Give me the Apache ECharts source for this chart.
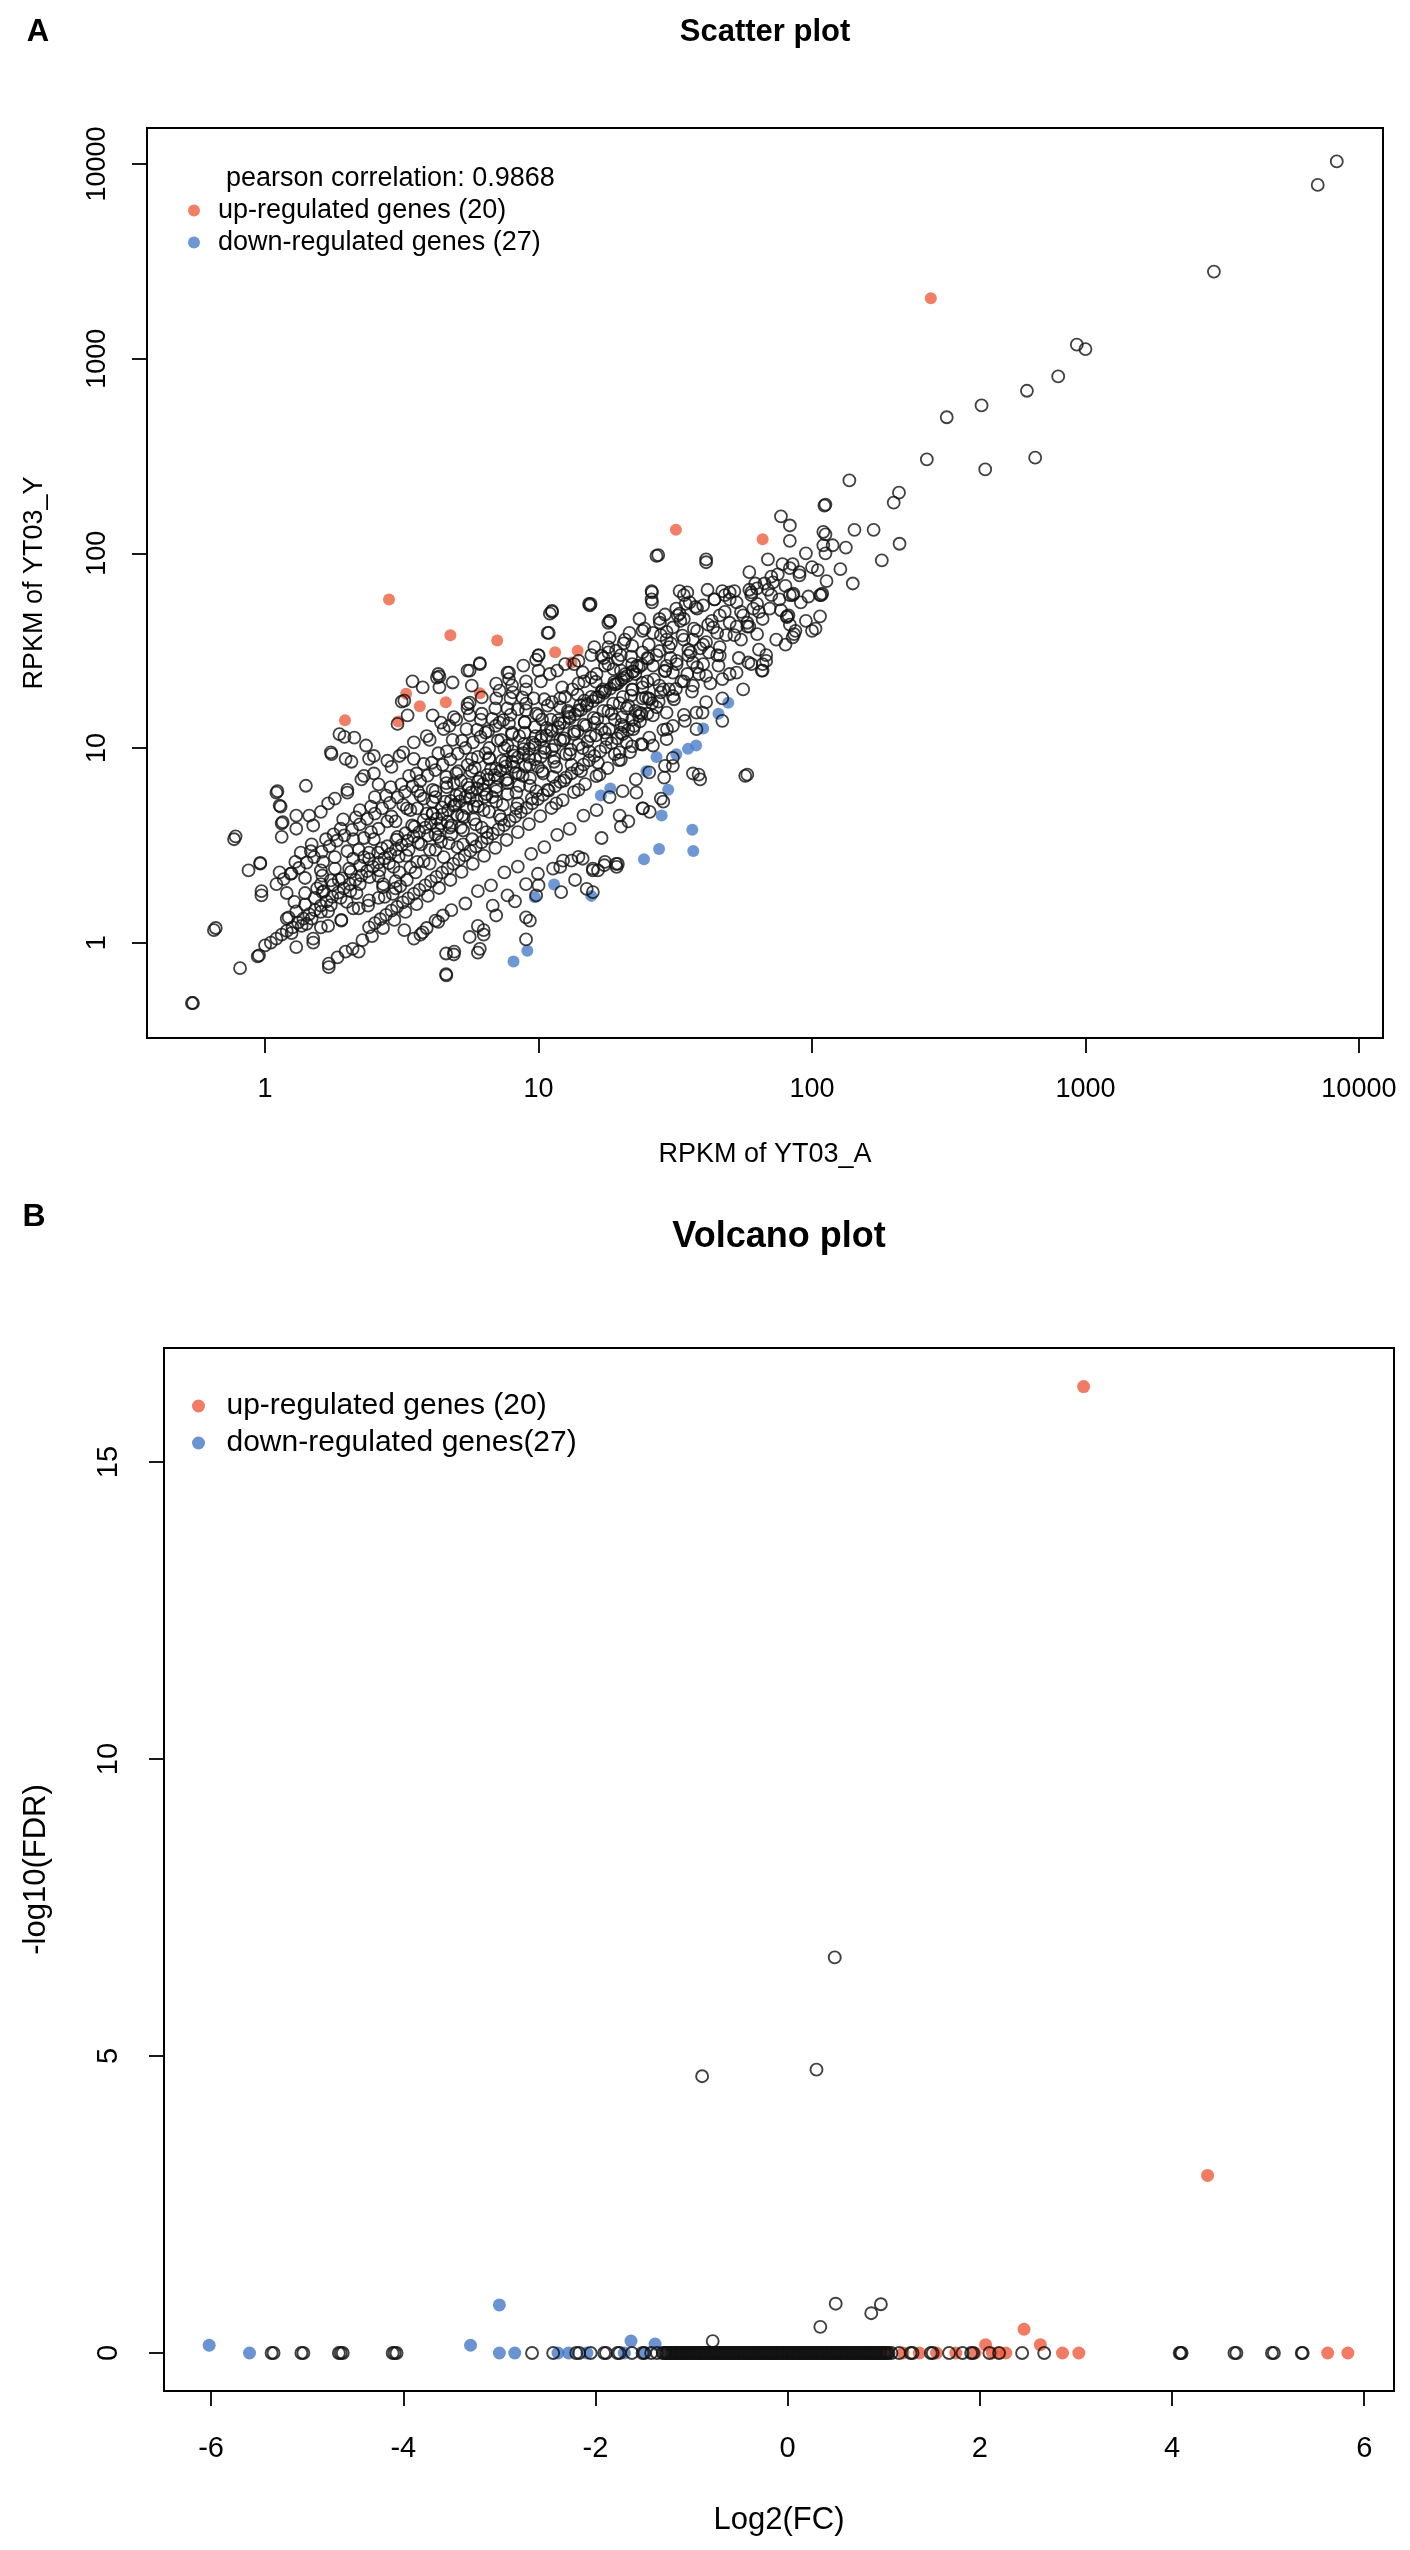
<!DOCTYPE html>
<html>
<head>
<meta charset="utf-8">
<script src="https://cdn.jsdelivr.net/npm/echarts@6/dist/echarts.min.js"></script>
<style>
  html, body { margin: 0; padding: 0; background: #fff; }
  #chart { width: 1410px; height: 2550px; }
</style>
</head>
<body>
<div id="chart"></div>
<script>
// ---- Panel A: scatter plot (RPKM of YT03_A vs RPKM of YT03_Y) ----
var xTicksA = [1, 10, 100, 1000, 10000];
var yTicksA = [1, 10, 100, 1000, 10000];

// isolated open circles
var scatterOpen = [
  [8300,10300],[7070,7800],[2950,2800],[930,1180],[1000,1120],[795,810],[611,684],[417,575],[311,500],
  [263,304],[430,270],[655,310],[137,237],[208,205],[199,182],[112,178],[111,176],[77,155],[83,139],
  [83,116],[110,129],[112,125],[143,132],[168,132],[209,112],[180,92],[141,70],[127,83],[133,107],
  [119,110],[110,110],[112,100],[69,93],[105,82],[113,72],[97,60],[109,62],[108,61],[85.5,62],[85,61],
  [82,48],[81,47],[86,38.5],[103,41],[90,80],[78,88],[72,71],[69,65],[59,65],[61,52],[55,50],[50,63],
  [47,64],[41.5,65],[41,93],[27.4,98],[25.9,64],[25.9,58],[32.8,64],[35,63],[35.7,56],[40,54],[31.9,52],
  [32.8,49],[46,48],[53,42],[63,38.5],[59,80],[58.5,27.5],[68,28],[65.5,25],[58,7.3],
  [15.3,55],[18.2,45],[11.2,50.6],[10.8,39],[6.1,27],[5.6,25],[4.3,24],[4.85,21.7],[10,30],[7.7,24.4],
  [18.2,36.8],[21.5,39],[19.2,31.6],[17,29.8],[29.4,36],[26.2,39],[23.4,46],[27.7,46],[31,41.6],
  [29.4,26.4],[36.7,36],[41.7,43],[43.5,41.6],[42,31],[36.7,27.5],[46,29.8],[53,24.4],[47,22.6],
  [41,23.5],[36.7,20.9],[31,18.5],[27.7,20.9],[31,24.4],[37.8,15.2],[41,17.2],[47,13.8],[37.8,12.5],
  [31,13],[29.4,15.2],[26.2,14.7],[29.4,11.1],[26.2,10.3],[29,8.1],[31,8.1],[36.7,7.4],[39,6.9],
  [22.8,5.9],[24.1,4.9],[25.5,4.7],[19.8,4.5],[28.6,5.3],[17.5,2.6],[19.5,2.54],[15.8,2.4],[19.8,9.5],
  [21,10.7],[22.2,12.5],[23.4,15.2],[25.5,17.8],
  [15.5,55],[11.2,50],[10.9,39],[18.3,45],[10,29.8],[6.1,27.3],[7.8,24.4],[7.2,19.7],[5.7,20.9],
  [8.05,19.3],[4.34,23.3],[4.34,20.5],[3.77,20.5],[3.23,17.5],[3.32,14.7],[3.05,13.3],[4.1,14.7],
  [4.72,13],[5.6,17.1],[5.6,14.7],[6.4,12],[7.2,13.5],
  [1.87,11.8],[2.12,11.3],[1.74,9.5],[1.97,8.8],[2.34,10.3],[2.4,8.8],[2.5,9.1],[1.41,6.4],[1.11,6.0],
  [1.13,5.06],[1.16,4.16],[1.15,4.1],[0.78,3.52],[0.87,2.35],[0.96,2.57],[0.97,1.75],[1.24,2.26],
  [1.62,2.21],[1.74,2.09],[1.62,1.82],[0.66,1.19],[0.81,0.74],[0.95,0.86],[0.94,0.85],[0.54,0.49],
  [0.545,0.49],[1.71,0.78],[1.84,0.84],[1.97,0.9],[2.09,0.93],[2.27,1.03],[2.93,1.78],[3.23,1.16],
  [3.77,1.13],[4.59,0.88],[4.92,0.9],[4.59,0.69],[6.1,0.93],[6.3,1.16],[4.2,1.3],[4.47,1.38],[6.8,1.55],
  [7.7,1.75],[9.0,2.0],[9.95,2.26],[11.3,2.4],[12.3,2.64],[13.2,2.64],[14.5,2.7],[16.5,2.35],[19.2,2.54],
  [12.1,1.82],[9.8,1.75],[9.0,1.35],[15,1.89],[15.8,1.82],[5.6,1.07],
  [0.77,3.4],[0.65,1.16],[0.96,2.55],[0.97,1.84],[1.1,5.9],[1.14,5.0],[1.95,11.4],[1.75,9.3],[2.07,8.5],
  [3.16,17.3],[3.46,22],[4.25,23],[5.5,25],[11,49],[15.4,54],[18,44],[26,63],[27,97],[41,90],[4.6,0.68],
  [4.9,0.87],[6,0.89],[6.3,1.1],[3.7,1.1],[1.71,0.75],[2.2,0.9],[9.3,1.3],[9,1.04],[13.6,2.1],[15.8,2.35],
  [19.3,2.45],[17.4,2.5],[21.3,4.2],[28.8,7.05],[31,8.9],[38.5,7.3],[57,7.2],[66,27],[100,40],[85,37],
  [66,25],[48,61],[50,58],[63,66],[60,61],[83,61],[107,61],[81,47.5],[107,47.5],[59,42],[83,43],[34,61],
  [34.5,55],[26,56]
];

// the dense diagonal bands of the cloud
var bandMain = [
  [1.0,0.97],[1.05,1.0],[1.1,1.05],[1.15,1.1],[1.2,1.15],[1.26,1.2],[1.32,1.27],[1.38,1.33],[1.45,1.4],
  [1.52,1.47],[1.6,1.55],[1.68,1.63],[1.76,1.72],[1.85,1.81],[1.94,1.9],[2.04,2.0],[2.14,2.1],[2.25,2.21],
  [2.36,2.33],[2.48,2.45],[2.6,2.58],[2.73,2.71],[2.87,2.86],[3.01,3.01],[3.16,3.17],[3.32,3.34],
  [3.49,3.52],[3.66,3.7],[3.85,3.9],[4.04,4.11],[4.24,4.33],[4.45,4.56],[4.67,4.8],[4.9,5.05],[5.15,5.32],
  [5.4,5.6],[5.67,5.9],[5.96,6.2],[6.26,6.55],[6.57,6.9],[6.9,7.26],[7.25,7.65],[7.6,8.05],[8.0,8.5],
  [8.4,8.95],[8.8,9.4],[9.25,9.9],[9.7,10.4],[10.2,11],[10.7,11.6],[11.2,12.2],[11.8,12.8],[12.4,13.5],
  [13,14.2],[13.6,14.9],[14.3,15.7],[15,16.5],[15.8,17.4],[16.6,18.3],[17.4,19.2],[18.3,20.2],
  [19.2,21.3],[20.1,22.4],[21.1,23.5],[22.2,24.7],[23.3,26]
];
var bandMainEdge = [
  [1.2,1.33],[1.3,1.45],[1.4,1.57],[1.52,1.7],[1.64,1.84],[1.77,1.98],[1.91,2.14],[2.06,2.31],[2.22,2.49],
  [2.4,2.69],[2.59,2.9],[2.8,3.13],[3.02,3.38],[3.26,3.65],[3.52,3.94],[3.8,4.26],[4.1,4.6],[4.43,4.96],
  [4.78,5.35],[5.16,5.78],[5.57,6.24],[6.01,6.73],[6.49,7.27],[7.0,7.84],[7.56,8.47],[8.16,9.14],
  [8.81,9.87],[9.51,10.65],[10.27,11.5],[11.09,12.42],[11.97,13.4],[12.92,14.47],[13.95,15.62],
  [15.06,16.87],[16.26,18.21],[17.55,19.66],[18.95,21.22],[20.46,22.9],[22.09,24.74],[23.85,26.7],
  [1.25,1.12],[1.36,1.22],[1.48,1.33],[1.6,1.44],[1.74,1.56],[1.89,1.7],[2.05,1.84],[2.22,2.0],[2.41,2.17],
  [2.62,2.35],[2.84,2.56],[3.08,2.77],[3.35,3.0],[3.63,3.27],[3.94,3.55],[4.28,3.85],[4.65,4.18],
  [5.04,4.54],[5.47,4.92],[5.94,5.35],[6.45,5.8],[7.0,6.3],[7.6,6.84],[8.25,7.42],[8.95,8.05],[9.72,8.75],
  [10.55,9.5],[11.45,10.3],[12.43,11.2],[13.5,12.15],[14.65,13.2],[15.9,14.3],[17.26,15.5],[18.74,16.9],
  [20.34,18.3],[22.08,19.9],[23.97,21.6]
];
var bandUpper = [
  [1.1,2.0],[1.17,2.12],[1.25,2.27],[1.33,2.42],[1.42,2.58],[1.51,2.75],[1.61,2.93],[1.72,3.13],
  [1.83,3.34],[1.95,3.56],[2.08,3.8],[2.22,4.05],[2.36,4.32],[2.52,4.6],[2.68,4.9],[2.86,5.23],
  [3.05,5.58],[3.25,5.95],[3.46,6.35],[3.69,6.77],[3.93,7.22],[4.19,7.7],[4.46,8.2],[4.76,8.75],
  [5.07,9.35],[5.4,10],[5.76,10.7],[6.14,11.4],[6.54,12.2],[6.97,13],[7.43,13.9],[7.9,14.8],[8.4,15.8],
  [9,16.9],[9.6,18],
  [1.13,2.3],[1.29,2.6],[1.47,2.95],[1.67,3.4],[1.89,3.85],[2.15,4.4],[2.44,5.0],[2.77,5.7],[3.15,6.5],
  [3.58,7.4],[4.07,8.4],[4.62,9.6],[5.25,10.9],[5.96,12.4],[6.77,14.1],[7.69,16],[8.73,18.2]
];
var bandLower = [
  [2.4,1.2],[2.52,1.26],[2.64,1.32],[2.77,1.39],[2.9,1.46],[3.04,1.53],[3.19,1.61],[3.34,1.69],[3.5,1.78],
  [3.67,1.87],[3.85,1.97],[4.04,2.07],[4.23,2.18],[4.44,2.29],[4.65,2.41],[4.88,2.54],[5.12,2.67],
  [5.37,2.81],[5.63,2.96],[5.9,3.12],[6.19,3.28],[6.49,3.45],[6.8,3.63],[7.13,3.82],[7.48,4.02],
  [7.84,4.23],[8.22,4.45],[8.62,4.68],[9.04,4.93],[9.48,5.19],[9.94,5.46],[10.4,5.75],[10.9,6.05],
  [11.5,6.37],[12,6.7],[12.6,7.05],[13.2,7.42],[13.9,7.81],[14.6,8.22],[15.3,8.65],[16,9.1],[16.8,9.6],
  [17.6,10.1],[18.5,10.6],[19.4,11.2],[20.3,11.8],[21.3,12.4],[22.4,13],[23.5,13.7],
  [2.46,1.08],[2.7,1.19],[2.97,1.31],[3.26,1.44],[3.58,1.58],[3.94,1.74],[4.33,1.91],[4.76,2.1],[5.23,2.31],
  [5.75,2.54],[6.32,2.79],[6.95,3.07],[7.64,3.37],[8.4,3.7],[9.23,4.07],[10.15,4.47],[11.15,4.92],
  [12.26,5.4],[13.47,5.94],[14.8,6.53],[16.27,7.18],[17.88,7.89],[19.65,8.67],[21.6,9.53],[23.74,10.47]
];
// open circles filling the cloud between the bands
var cloudFill = [
  [1.2,1.8],[1.4,2.15],[1.6,2.35],[1.8,2.75],[2.0,2.95],[2.3,3.45],[2.6,3.85],[2.9,4.45],[3.3,4.9],
  [3.7,5.7],[4.1,6.1],[4.6,7.1],[5.1,7.6],[5.7,8.8],[6.4,9.4],[7.1,10.9],[8.0,11.8],[8.9,13.6],[10,14.7],
  [11.2,17.2],[12.5,18.3],[14,21.5],[15.6,23],[17.5,26.5],[19.5,28.5],[22,33.5],
  [1.5,1.05],[1.7,1.22],[1.9,1.31],[2.1,1.5],[2.4,1.65],[2.7,1.93],[3.0,2.07],[3.4,2.44],[3.8,2.62],
  [4.2,3.0],[4.7,3.25],[5.3,3.78],[5.9,4.05],[6.6,4.7],[7.4,5.1],[8.3,5.9],[9.3,6.4],[10.4,7.4],[11.6,8.0],
  [13,9.3],[14.5,10],[16.2,11.6],[18.1,12.5],[20.2,14.4],[22.6,15.5],[25.3,18],[28,19.3],
  [1.15,3.5],[1.3,3.85],[1.45,4.5],[1.6,4.7],[1.8,5.5],[2.0,5.9],[2.25,6.9],[2.5,7.4],[2.8,8.6],[3.1,9.1],
  [3.5,10.7],[3.9,11.5],[4.4,13.5],[4.9,14.4],[5.5,16.8],[6.2,18.2],[7,21.4],[7.8,22.6],[8.8,26.5],[9.8,28.4],
  [3.5,1.05],[3.9,1.19],[4.3,1.28],[4.8,1.47],[5.4,1.59],[6,1.84],[6.7,1.97],[7.5,2.3],[8.4,2.46],[9.4,2.86],
  [10.5,3.1],[11.7,3.58],[13,3.84],[14.6,4.5],[16.3,4.8],[18.2,5.6],[20.3,6.0],[22.7,6.9],[25.4,7.5],
  [6,1.22],[7,1.38],[8.2,1.63],[10,1.97],[12,2.45],[14,2.76],[17,3.45],[20,3.95],[24,4.9],[28,5.5],
  [25,22],[27,30],[29,25],[30,33],[32,28],[34,36],[36,31],[38,40],[40,34],[43,45],[45,39],[48,50],[50,44],
  [53,56],[56,48],[60,63],[63,55],[67,70],[71,61],[75,78],[80,68],[85,88],[90,77],[95,100],[100,85],
  [33,45],[38,52],[44,58],[28,38],[24,31],[22,27],[20,25],[35,24],[40,27],[46,33],[52,38],[58,44],
  [64,50],[70,52],[76,58],
  [2.2,3.0],[2.5,3.4],[2.7,2.0],[3.0,4.2],[3.1,2.3],[3.4,4.8],[3.6,2.6],[3.8,5.5],[4.0,3.0],[4.2,6.0],
  [4.4,3.3],[4.6,6.6],[4.8,3.6],[5.0,7.4],[5.2,3.9],[5.5,8.2],[5.8,4.3],[6.0,9.0],[6.3,4.8],[6.6,10],
  [7.0,5.3],[7.3,11],[7.7,5.8],[8.0,12],[8.5,6.4],[8.9,13.5],[9.3,7.0],[9.8,15],[10.3,7.6],[10.8,16.5],
  [11.4,8.5],[12,18],[12.6,9.3],[13.3,20],[14,10.4],[14.7,22],[15.5,11.5],[16.3,24],[17,12.5],[18,27],
  [19,14],[20,30],[21,16],[22,20],[24,18],[25,29],[30,20],[34,22],[38,26],[45,30],[55,36],[26,17],
  [22,14],[20,12],[25,15],
  [1.3,0.95],[1.5,1.0],[1.6,1.2],[1.9,1.3],[2.2,1.5],[2.6,1.7],[3.0,1.9],[3.3,2.1],[1.4,1.8],[1.6,2.0],
  [1.8,2.4],[2.1,2.7],[2.4,2.9],
  [1.3,4.5],[1.5,4.0],[1.7,5.2],[2.0,6.1],[2.3,7.2],[2.6,6.5],[2.9,8.0],[3.2,9.5],[3.5,8.8],[4.0,11],
  [4.5,12.5],[5,14],[5.5,16],[6.2,15],[7,18],[8,21],[9,22],[10,25],[11,24],[12.5,27],[14,28],[16,33],[18,31]
];
var cloudCore = [
  [1.22,1.35],[1.28,1.62],[1.35,2.9],[1.42,1.25],[1.48,3.2],[1.55,1.9],[1.63,2.6],[1.7,1.45],[1.78,3.6],
  [1.86,2.1],[1.93,4.3],[1.99,1.62],[2.03,2.4],[2.1,3.4],[2.16,1.8],[2.22,4.8],[2.3,2.75],[2.38,1.55],
  [2.44,3.7],[2.52,5.6],[2.6,2.2],[2.67,3.05],[2.74,1.72],[2.8,4.2],[2.88,6.3],[2.95,2.45],
  [3.05,3.5],[3.12,1.95],[3.2,5.1],[3.28,2.8],[3.36,7.2],[3.45,4.0],[3.55,2.3],[3.62,6.0],[3.72,3.2],
  [3.8,8.3],[3.9,4.6],[4.0,2.55],[4.1,5.3],[4.2,3.6],[4.3,9.4],[4.4,4.1],[4.5,2.75],[4.62,6.3],[4.74,3.9],
  [4.85,11],[4.95,5.1],[5.05,3.1],[5.2,6.8],[5.33,4.4],[5.45,12.5],[5.6,5.5],[5.72,3.4],[5.85,7.9],
  [6.0,5.0],[6.15,14],[6.3,6.1],[6.45,3.7],[6.6,8.8],[6.78,5.6],[6.95,16],[7.1,7.0],[7.3,4.3],[7.5,10],
  [7.7,6.6],[7.9,18],[8.1,8.0],[8.3,4.9],[8.5,11.5],[8.75,7.2],[9.0,20],[9.2,9.0],[9.45,5.5],[9.7,12.8],
  [9.95,8.0],[10.2,22],[10.5,10.0],[10.8,6.1],[11.1,14],[11.4,8.9],[11.7,25],[12.0,11],[12.4,6.8],
  [12.8,15.5],[13.1,9.8],[13.5,27],[13.9,12.2],[14.3,7.6],[14.7,17.5],[15.1,10.8],[15.6,30],[16.0,13.5],
  [16.5,8.4],[17.0,19.5],[17.5,12.0],[18.0,33],[18.5,15.0],[19.0,9.3],[19.5,21.5],
  [20.1,13.2],[20.7,36],[21.3,16.5],[22.0,10.2],[22.6,24],[23.3,14.6],[24.0,40],[24.7,18.2],[25.4,11.3],
  [26.2,26.5],[27.0,16.2],[27.8,44],[28.6,20],[29.5,12.5],[30.4,29],[31.3,17.8],[32.3,48],[33.3,22],
  [34.3,13.8],[35.3,32],[36.4,19.5],[37.5,53],[38.6,24],[39.8,15.2],
  [41,35],[42.5,21.5],[44,58],[45.5,26.5],[47,18],[48.5,38],[50,24],[52,64],[54,29],[56,20],[58,42],
  [60,27],[62,70],[64,32],[66,46],[68,30],[71,76],[74,36],[77,51],[80,34],[83,84],[87,40],[91,56],[95,45]
];
// the darkest part of the ribbon, x between about 4 and 40
var cloudDense = [
  [4.1,4.6],[4.3,3.5],[4.55,5.3],[4.8,4.0],[5.0,5.7],[5.25,4.5],[5.5,6.5],[5.8,5.0],[6.1,7.0],[6.35,5.6],
  [6.7,7.8],[7.0,6.0],[7.35,8.6],[7.7,6.9],[8.05,9.6],[8.45,7.4],[8.85,10.5],[9.3,8.2],[9.75,11.5],
  [10.2,9.0],[10.7,12.7],[11.2,9.8],[11.8,13.9],[12.3,10.9],[12.9,15.2],[13.5,11.8],[14.2,16.6],
  [14.9,13.0],[15.6,18.3],[16.4,14.1],[17.2,20],[18.0,15.5],[18.9,21.8],[19.8,17.0],[20.8,24],[21.8,18.6],
  [22.9,26.4],[24.0,20.5],[25.2,28.8],[26.4,22.5],[27.7,31.5],[29,24.8],[30.5,34.5],[32,27],[33.6,37.8],
  [35.3,29.8],[37,41],[39,32.5],
  [5.3,3.2],[6.2,3.9],[7.2,4.5],[8.4,5.2],[9.8,6.0],[11.3,7.1],[13.2,8.2],[15.3,9.6],[17.8,11.1],
  [20.6,12.9],[23.8,15],[27.5,17.3],[31.8,20.1],
  [3.6,4.9],[4.2,5.6],[4.9,6.6],[5.7,7.6],[6.6,8.9],[7.7,10.3],[8.9,12],[10.3,14],[12,16.2],[13.9,18.8],
  [16.2,21.9],[18.8,25.4],[21.8,29.5],[25.3,34],[29.4,39.5],[34,46],
  [12.2,20.5],[14.5,24.5],[17.3,29],[20.5,34.5],[24.4,41],[29,48.5],[10.5,17.8],[9,15.6],[7.8,13.4],
  [11.6,5.2],[14,6.1],[16.7,7.3],[20,8.7],[24,10.4],[28.6,12.4],[34,14.8]
];
var scatterUp = [
  [272,2040],[31.8,132],[66,118],[2.84,58],[4.76,38],[7.06,35.7],[11.5,31],[13.9,31.6],[13.2,27.5],
  [6.1,19.1],[3.28,19],[3.68,16.4],[4.58,17.2],[1.96,13.9],[3.07,13.7]
];
var scatterDown = [
  [49.4,17.1],[45.5,15],[40,12.6],[37.7,10.3],[35.2,9.9],[31.9,9.3],[27,9],[24.8,7.6],[29.8,6.1],
  [16.9,5.7],[18.3,6.2],[28.2,4.5],[36.5,3.8],[36.8,2.96],[27.6,3.03],[24.3,2.68],[11.4,1.99],
  [15.6,1.74],[9.7,1.71],[9.1,0.91],[8.1,0.8]
];

// ---- Panel B: volcano plot (Log2(FC) vs -log10(FDR)) ----
var xTicksB = [-6, -4, -2, 0, 2, 4, 6];
var yTicksB = [0, 5, 10, 15];

var volcanoOpen = [
  [0.49,6.66],[-0.89,4.66],[0.30,4.77],[0.50,0.83],[0.97,0.82],[0.87,0.67],[0.34,0.44],[-0.78,0.2],[2.67,0],
  [-5.37,0],[-5.35,0],[-5.04,0],[-5.06,0],[-4.65,0],[-4.63,0],[-4.67,0],[-4.09,0],[-4.07,0],[-4.11,0],
  [4.08,0],[4.1,0],[4.09,0],[4.65,0],[4.67,0],[5.04,0],[5.06,0],[5.35,0],[5.36,0],
  [-2.66,0],[-2.44,0],[-2.2,0],[-2.17,0],[-2.05,0],[-1.91,0],[-1.89,0],[-1.77,0],[-1.75,0],[-1.62,0],
  [-1.51,0],[-1.49,0],[-1.42,0],[-1.36,0],
  [1.08,0],[1.16,0],[1.28,0],[1.3,0],[1.49,0],[1.51,0],[1.68,0],[1.82,0],[1.91,0],[1.93,0],[2.1,0],[2.2,0],[2.44,0]
];
// log2FC of the genes piled up at -log10(FDR) = 0
var volcanoBaseFC = [
  -1.3,-1.27,-1.25,-1.22,-1.2,-1.17,-1.15,-1.12,-1.1,-1.07,-1.05,-1.02,-1,-0.97,-0.95,-0.92,-0.9,-0.87,
  -0.85,-0.82,-0.8,-0.77,-0.75,-0.72,-0.7,-0.67,-0.65,-0.62,-0.6,-0.57,-0.55,-0.52,-0.5,-0.47,-0.45,-0.42,
  -0.4,-0.37,-0.35,-0.32,-0.3,-0.27,-0.25,-0.22,-0.2,-0.17,-0.15,-0.12,-0.1,-0.07,-0.05,-0.02,0,0.02,0.05,
  0.07,0.1,0.12,0.15,0.17,0.2,0.22,0.25,0.27,0.3,0.32,0.35,0.37,0.4,0.42,0.45,0.47,0.5,0.52,0.55,0.57,0.6,
  0.62,0.65,0.67,0.7,0.72,0.75,0.77,0.8,0.82,0.85,0.87,0.9,0.92,0.95,0.97,1.0,1.02,1.05,
  -1.285,-1.26,-1.235,-1.21,-1.185,-1.16,-1.135,-1.11,-1.085,-1.06,-1.035,-1.01,-0.985,-0.96,-0.935,-0.91,
  -0.885,-0.86,-0.835,-0.81,-0.785,-0.76,-0.735,-0.71,-0.685,-0.66,-0.635,-0.61,-0.585,-0.56,-0.535,-0.51,
  -0.485,-0.46,-0.435,-0.41,-0.385,-0.36,-0.335,-0.31,-0.285,-0.26,-0.235,-0.21,-0.185,-0.16,-0.135,-0.11,
  -0.085,-0.06,-0.035,-0.01,0.01,0.035,0.06,0.085,0.11,0.135,0.16,0.185,0.21,0.235,0.26,0.285,0.31,0.335,
  0.36,0.385,0.41,0.435,0.46,0.485,0.51,0.535,0.56,0.585,0.61,0.635,0.66,0.685,0.71,0.735,0.76,0.785,0.81,
  0.835,0.86,0.885,0.91,0.935,0.96,0.985,1.01,1.035
];
var volcanoUp = [
  [3.08,16.27],[4.37,2.99],[2.46,0.4],[2.63,0.14],[2.06,0.14],[2.13,0],[2.27,0],[2.86,0],[3.03,0],
  [5.62,0],[5.83,0],[1.04,0],[1.2,0],[1.37,0],[1.55,0],[1.75,0],[1.95,0],[2.2,0]
];
var volcanoDown = [
  [-6.02,0.13],[-5.6,0],[-3.3,0.13],[-3.0,0.81],[-3.0,0],[-2.84,0],[-2.39,0],[-2.28,0],[-2.09,0],
  [-1.63,0.2],[-1.38,0.15],[-1.49,0],[-1.7,0],[-1.2,0],[-1.05,0]
];
var legendTextB = {
  'volcano up': 'up-regulated genes (20)',
  'volcano down': 'down-regulated genes(27)'
};

var FONT = '"Liberation Sans", Arial, Helvetica, sans-serif';
var UP_A = '#ec5f40', DOWN_A = '#4a7dc9';
var UP_B = '#ee5a3c', DOWN_B = '#4677c6';

var openStyleA = { color: 'rgba(0,0,0,0)', borderColor: '#111', borderWidth: 1.8 };
var openStyleB = { color: 'rgba(0,0,0,0)', borderColor: '#111', borderWidth: 1.9 };

function tickAxis(opts) {
  return Object.assign({
    axisLine: { show: false, onZero: false },
    splitLine: { show: false },
    nameLocation: 'middle'
  }, opts);
}
function ticks(values) {
  return { show: true, inside: false, length: 15, lineStyle: { color: '#000', width: 1.8 }, customValues: values };
}
function logLabel(v) { return String(Math.round(v)); }

var option = {
  animation: false,
  backgroundColor: '#fff',
  textStyle: { fontFamily: FONT },
  graphic: [
    { type: 'text', x: 38, y: 32, style: { text: 'A', font: 'bold 31px ' + FONT, fill: '#000', textAlign: 'center', textVerticalAlign: 'middle' } },
    { type: 'text', x: 765, y: 32, style: { text: 'Scatter plot', font: 'bold 31px ' + FONT, fill: '#000', textAlign: 'center', textVerticalAlign: 'middle' } },
    { type: 'text', x: 34, y: 1217, style: { text: 'B', font: 'bold 32px ' + FONT, fill: '#000', textAlign: 'center', textVerticalAlign: 'middle' } },
    { type: 'text', x: 779, y: 1237, style: { text: 'Volcano plot', font: 'bold 36px ' + FONT, fill: '#000', textAlign: 'center', textVerticalAlign: 'middle' } }
  ],
  legend: [
    {
      orient: 'vertical', left: 170, top: 160, itemWidth: 38, itemHeight: 12, itemGap: 5,
      icon: 'circle', selectedMode: false,
      textStyle: { fontSize: 27, color: '#000', fontFamily: FONT },
      data: [
        { name: 'pearson correlation: 0.9868', icon: 'none', textStyle: { padding: [0, 0, 0, 8] } },
        'up-regulated genes (20)',
        'down-regulated genes (27)'
      ]
    },
    {
      orient: 'vertical', left: 187, top: 1386, itemWidth: 46, itemHeight: 13, itemGap: 7,
      icon: 'circle', selectedMode: false,
      textStyle: { fontSize: 30, color: '#000', fontFamily: FONT },
      formatter: function (name) { return legendTextB[name]; },
      data: ['volcano up', 'volcano down']
    }
  ],
  grid: [
    { left: 147, top: 128, width: 1236, height: 910, show: true, borderColor: '#000', borderWidth: 2, backgroundColor: 'transparent' },
    { left: 164, top: 1348, width: 1230, height: 1043, show: true, borderColor: '#000', borderWidth: 2, backgroundColor: 'transparent' }
  ],
  xAxis: [
    tickAxis({
      gridIndex: 0, type: 'log', logBase: 10, min: 0.37, max: 12250,
      name: 'RPKM of YT03_A', nameGap: 103, nameTextStyle: { fontSize: 27, color: '#000', fontFamily: FONT },
      axisTick: ticks(xTicksA),
      axisLabel: { customValues: xTicksA, formatter: logLabel, fontSize: 27, color: '#000', margin: 38, fontFamily: FONT }
    }),
    tickAxis({
      gridIndex: 1, type: 'value', min: -6.49, max: 6.31,
      name: 'Log2(FC)', nameGap: 114, nameTextStyle: { fontSize: 31, color: '#000', fontFamily: FONT },
      axisTick: ticks(xTicksB),
      axisLabel: { customValues: xTicksB, fontSize: 29, color: '#000', margin: 43, fontFamily: FONT }
    })
  ],
  yAxis: [
    tickAxis({
      gridIndex: 0, type: 'log', logBase: 10, min: 0.324, max: 15300,
      name: 'RPKM of YT03_Y', nameGap: 99, nameTextStyle: { fontSize: 27, color: '#000', fontFamily: FONT },
      axisTick: ticks(yTicksA),
      axisLabel: { customValues: yTicksA, formatter: logLabel, rotate: 90, fontSize: 27, color: '#000', margin: 36, fontFamily: FONT }
    }),
    tickAxis({
      gridIndex: 1, type: 'value', min: -0.64, max: 16.92,
      name: '-log10(FDR)', nameGap: 112, nameTextStyle: { fontSize: 31, color: '#000', fontFamily: FONT },
      axisTick: ticks(yTicksB),
      axisLabel: { customValues: yTicksB, rotate: 90, fontSize: 29, color: '#000', margin: 41, fontFamily: FONT }
    })
  ],
  series: [
    { name: 'pearson correlation: 0.9868', type: 'scatter', xAxisIndex: 0, yAxisIndex: 0, data: [], itemStyle: { color: '#fff' } },
    {
      name: 'up-regulated genes (20)', type: 'scatter', xAxisIndex: 0, yAxisIndex: 0, silent: true,
      symbolSize: 12, itemStyle: { color: UP_A }, data: scatterUp, z: 2
    },
    {
      name: 'down-regulated genes (27)', type: 'scatter', xAxisIndex: 0, yAxisIndex: 0, silent: true,
      symbolSize: 12, itemStyle: { color: DOWN_A }, data: scatterDown, z: 2
    },
    {
      name: 'all genes A', type: 'scatter', xAxisIndex: 0, yAxisIndex: 0, silent: true,
      symbolSize: 12, itemStyle: openStyleA, z: 3,
      data: scatterOpen.concat(bandMain, bandMainEdge, bandUpper, bandLower, cloudFill, cloudCore, cloudDense)
    },
    {
      name: 'volcano up', type: 'scatter', xAxisIndex: 1, yAxisIndex: 1, silent: true,
      symbolSize: 13, itemStyle: { color: UP_B }, data: volcanoUp, z: 2
    },
    {
      name: 'volcano down', type: 'scatter', xAxisIndex: 1, yAxisIndex: 1, silent: true,
      symbolSize: 13, itemStyle: { color: DOWN_B }, data: volcanoDown, z: 2
    },
    {
      name: 'all genes B', type: 'scatter', xAxisIndex: 1, yAxisIndex: 1, silent: true,
      symbolSize: 12, itemStyle: openStyleB, z: 3,
      data: volcanoOpen.concat(volcanoBaseFC.map(function (fc) { return [fc, 0]; }))
    }
  ]
};

echarts.init(document.getElementById('chart')).setOption(option);
</script>
</body>
</html>
